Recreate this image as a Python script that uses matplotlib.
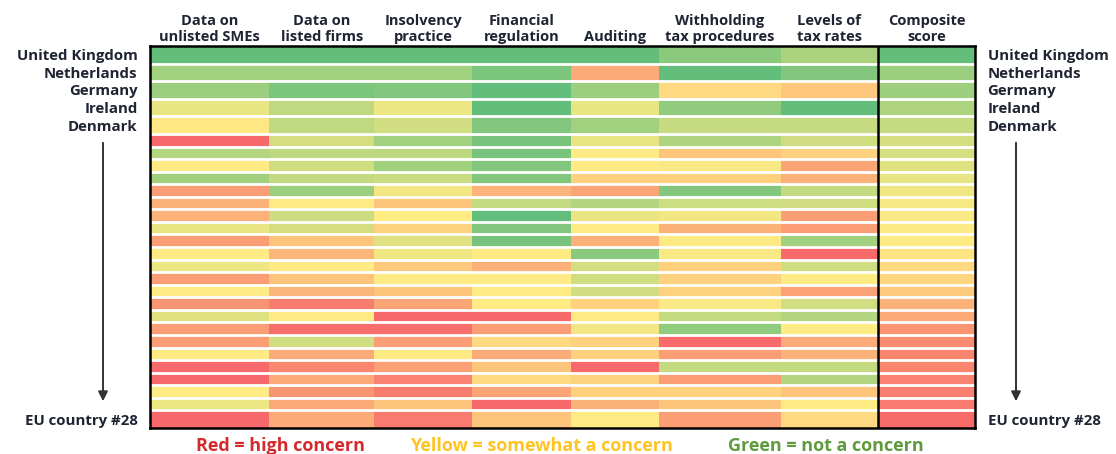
import numpy as np
import matplotlib
matplotlib.use("Agg")
import matplotlib.pyplot as plt
from matplotlib.colors import LinearSegmentedColormap

# column headers (last one is the composite)
columns = ["Data on\nunlisted SMEs", "Data on\nlisted firms", "Insolvency\npractice",
           "Financial\nregulation", "Auditing", "Withholding\ntax procedures",
           "Levels of\ntax rates", "Composite\nscore"]

countries = ["United Kingdom", "Netherlands", "Germany", "Ireland", "Denmark"] + [""] * 22 + ["EU country #28"]

# scores: 0 = red, 0.5 = yellow, 1 = green
smes      = [1.00, 0.80, 0.82, 0.57, 0.49, 0.00, 0.74, 0.50, 0.80, 0.20, 0.28, 0.28, 0.57, 0.20,
             0.50, 0.56, 0.20, 0.50, 0.17, 0.60, 0.20, 0.20, 0.50, 0.00, 0.00, 0.50, 0.56, 0.00]
listed    = [1.00, 0.80, 0.92, 0.70, 0.70, 0.64, 0.71, 0.65, 0.69, 0.82, 0.50, 0.66, 0.64, 0.35,
             0.30, 0.50, 0.35, 0.30, 0.08, 0.50, 0.02, 0.65, 0.25, 0.11, 0.25, 0.17, 0.25, 0.25]
insolv    = [1.00, 0.80, 0.90, 0.56, 0.65, 0.80, 0.71, 0.80, 0.67, 0.54, 0.35, 0.50, 0.40, 0.60,
             0.55, 0.37, 0.50, 0.35, 0.23, 0.00, 0.02, 0.20, 0.50, 0.21, 0.10, 0.08, 0.35, 0.07]
finreg    = [1.00, 0.92, 1.00, 1.00, 0.90, 0.93, 0.93, 0.90, 0.90, 0.29, 0.69, 1.00, 0.90, 0.93,
             0.50, 0.28, 0.50, 0.50, 0.50, 0.00, 0.20, 0.43, 0.25, 0.35, 0.43, 0.23, 0.00, 0.35]
auditing  = [1.00, 0.25, 0.82, 0.57, 0.80, 0.57, 0.50, 0.50, 0.40, 0.23, 0.74, 0.57, 0.50, 0.28,
             0.87, 0.64, 0.65, 0.65, 0.40, 0.50, 0.54, 0.40, 0.40, 0.00, 0.40, 0.40, 0.28, 0.50]
withhold  = [0.87, 1.00, 0.43, 0.85, 0.68, 0.76, 0.35, 0.52, 0.40, 0.90, 0.66, 0.54, 0.28, 0.50,
             0.52, 0.40, 0.40, 0.40, 0.52, 0.69, 0.85, 0.00, 0.20, 0.69, 0.20, 0.40, 0.35, 0.20]
taxrates  = [0.77, 0.90, 0.36, 1.00, 0.68, 0.65, 0.40, 0.23, 0.28, 0.69, 0.65, 0.20, 0.20, 0.80,
             0.00, 0.65, 0.50, 0.22, 0.65, 0.74, 0.50, 0.25, 0.28, 0.69, 0.74, 0.35, 0.50, 0.43]
composite = [1.00, 0.82, 0.81, 0.76, 0.69, 0.64, 0.63, 0.60, 0.58, 0.55, 0.53, 0.52, 0.51, 0.50,
             0.47, 0.43, 0.42, 0.37, 0.28, 0.25, 0.17, 0.13, 0.11, 0.11, 0.10, 0.09, 0.07, 0.01]

legend_items = ["Red = high concern", "Yellow = somewhat a concern", "Green = not a concern"]
legend_colors = ["#D42A2E", "#FFC424", "#5F9A3C"]

data = np.array([smes, listed, insolv, finreg, auditing, withhold, taxrates, composite]).T

# layout (pixel-ish units): uneven widths/heights as in the original
col_w = [119, 105, 98, 98, 88, 122, 97, 97]
row_h = [17.5] * 5 + [12.5] * 22 + [17.5]
xe = np.concatenate([[0], np.cumsum(col_w)])
ye = np.concatenate([[0], np.cumsum(row_h)])

cmap = LinearSegmentedColormap.from_list("excel", ["#F8696B", "#FFEB84", "#63BE7B"])

plt.rcParams['font.family'] = ['Open Sans', 'DejaVu Sans']
txt = "#1f2433"

fig = plt.figure(figsize=(11.16, 4.54), dpi=100)
ax = fig.add_axes([150 / 1116, 1 - 428 / 454, 825 / 1116, 382 / 454])
ax.pcolormesh(xe, ye, data, cmap=cmap, vmin=0, vmax=1)
ax.set_xlim(xe[0], xe[-1])
ax.set_ylim(ye[-1], ye[0])

# white gaps between rows
ax.hlines(ye[1:-1], xe[0], xe[-1], colors="white", lw=2.0)
ax.axvline(xe[-2], color="black", lw=1.8)
for s in ax.spines.values():
    s.set_linewidth(1.8)

ax.set_xticks((xe[:-1] + xe[1:]) / 2)
ax.set_xticklabels(columns, fontsize=10.5, fontweight="bold", color=txt, linespacing=1.15)
ax.tick_params(axis="x", top=True, bottom=False, labeltop=True, labelbottom=False, length=0, pad=1.5)

ax.set_yticks((ye[:-1] + ye[1:]) / 2)
ax.set_yticklabels(countries, fontsize=10.8, fontweight="bold", color=txt)
ax.tick_params(axis="y", left=False, right=False, labelleft=True, labelright=True, length=0, pad=9)

# arrows from Denmark down to last country
for xa in (103 / 1116, 1016 / 1116):
    fig.patches.append(matplotlib.patches.FancyArrowPatch(
        (xa, 1 - 140 / 454), (xa, 1 - 404 / 454), transform=fig.transFigure,
        arrowstyle="-|>", mutation_scale=14, color="#333333", lw=1.4))

xs = [280 / 1116, 541 / 1116, 826 / 1116]
for lab, col, xl in zip(legend_items, legend_colors, xs):
    fig.text(xl, 1 - 446 / 454, lab, color=col, fontsize=13, fontweight="bold", ha="center", va="center")

fig.savefig("out.png", dpi=100)
